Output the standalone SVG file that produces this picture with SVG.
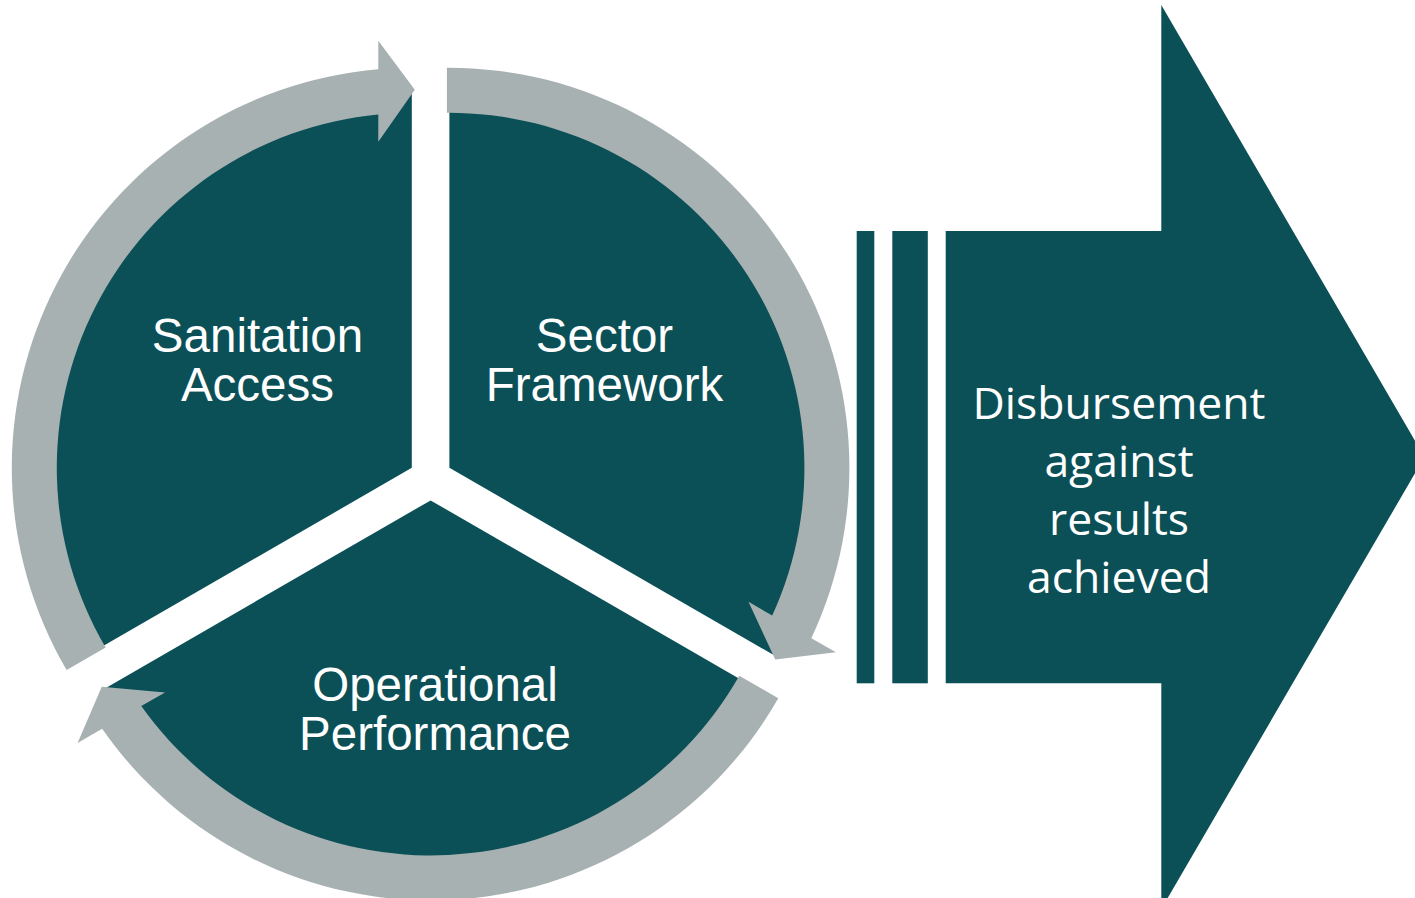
<svg xmlns="http://www.w3.org/2000/svg" width="1415" height="898" viewBox="0 0 1415 898">
  <style>
    .teal { fill: #0B5057; }
    .ring { fill: #A8B1B2; }
    .lbl { font-family: "Liberation Sans", Arial, sans-serif; font-size: 47.5px; fill: #FFFFFF; text-anchor: middle; }
    .lbl2 { font-family: "Open Sans", "DejaVu Sans", sans-serif; font-size: 44.5px; fill: #FFFFFF; text-anchor: middle; }
  </style>
  <rect width="1415" height="898" fill="#FFFFFF"/>

  <g id="node-sanitation-access">
    <path class="teal" d="M411.8 467.85 L86.18 655.85 A376 376 0 0 1 411.8 91.85 Z"/>
    <text class="lbl" x="257.5" y="352">Sanitation</text>
    <text class="lbl" x="257.5" y="400.5">Access</text>
  </g>

  <g id="node-sector-framework">
    <path class="teal" d="M449.4 467.85 L449.4 91.85 A376 376 0 0 1 775.02 655.85 Z"/>
    <text class="lbl" x="604.5" y="352">Sector</text>
    <text class="lbl" x="604.5" y="400.5">Framework</text>
  </g>

  <g id="node-operational-performance">
    <path class="teal" d="M430.6 500.4 L756.22 688.4 A376 376 0 0 1 104.98 688.4 Z"/>
    <text class="lbl" x="435" y="701">Operational</text>
    <text class="lbl" x="435" y="750">Performance</text>
  </g>

  <g id="connectors">
    <path class="ring" d="M66.64 670.02 A400 400 0 0 1 378.3 69.26 L378.3 40.85 L414.8 89.85 L378.3 141.85 L378.3 114.43 A355 355 0 0 0 105.62 647.52 Z"/>
    <path class="ring" d="M446.9 67.85 A400 400 0 0 1 811.34 638.14 L835.93 652.34 L775.25 659.45 L748.47 601.84 L772.22 615.55 A355 355 0 0 0 446.9 112.85 Z"/>
    <path class="ring" d="M778.26 698.24 A400 400 0 0 1 102.16 728.71 L77.57 742.91 L101.75 686.8 L165.03 692.41 L141.28 706.12 A355 355 0 0 0 739.28 675.74 Z"/>
  </g>

  <g id="node-disbursement">
    <rect class="teal" x="856.7" y="231" width="17.6" height="452.3"/>
    <rect class="teal" x="892.3" y="231" width="35.5" height="452.3"/>
    <path class="teal" d="M945.7 231 L1161.3 231 L1161.3 5 L1424.5 457 L1161.3 909 L1161.3 683.3 L945.7 683.3 Z"/>
    <text class="lbl2" x="1119" y="419">Disbursement</text>
    <text class="lbl2" x="1119" y="477">against</text>
    <text class="lbl2" x="1119" y="535">results</text>
    <text class="lbl2" x="1119" y="593">achieved</text>
  </g>
</svg>
